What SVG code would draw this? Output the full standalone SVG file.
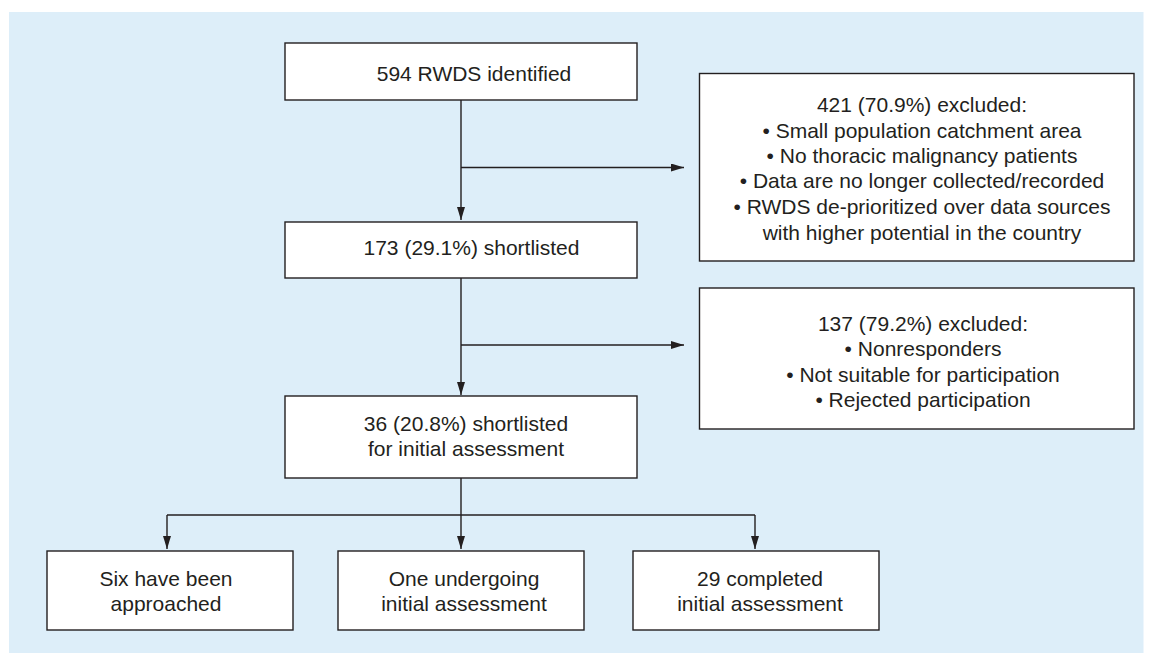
<svg xmlns="http://www.w3.org/2000/svg" width="1155" height="653" viewBox="0 0 1155 653">
<defs>
<style>
.box{fill:#ffffff;stroke:#231f20;stroke-width:1.4}
.t{font-family:"Liberation Sans",Arial,sans-serif;font-size:21px;fill:#231f20;text-anchor:middle}
.c{fill:none;stroke:#231f20;stroke-width:1.4}
.a{marker-end:url(#ah)}
</style>
<marker id="ah" markerUnits="userSpaceOnUse" markerWidth="13" markerHeight="8" refX="13" refY="4" orient="auto">
<path d="M0,0 L13,4 L0,8 Z" fill="#231f20"/>
</marker>
</defs>
<rect x="0" y="0" width="1155" height="653" fill="#ffffff"/>
<rect x="9" y="12" width="1134.5" height="641" fill="#ddeef9"/>
<g id="connectors">
<path class="c a" d="M461,100 V220"/>
<path class="c a" d="M461,167.5 H684"/>
<path class="c a" d="M461,278 V395"/>
<path class="c a" d="M461,345 H684"/>
<path class="c a" d="M461,478 V549"/>
<path class="c" d="M167,515 H755"/>
<path class="c a" d="M167,515 V549"/>
<path class="c a" d="M755,515 V549"/>
</g>
<g id="n1"><rect class="box" x="285" y="43" width="352" height="57"/><text class="t" x="474" y="81">594 RWDS identified</text></g>
<g id="n2"><rect class="box" x="285" y="222" width="352" height="56"/><text class="t" x="471.5" y="255">173 (29.1%) shortlisted</text></g>
<g id="n3"><rect class="box" x="285" y="396" width="352" height="82"/><text class="t" x="466" y="430.7">36 (20.8%) shortlisted</text><text class="t" x="466" y="456">for initial assessment</text></g>
<g id="e1"><rect class="box" x="699.5" y="73.5" width="434.5" height="187.5"/>
<text class="t" x="922" y="111.7">421 (70.9%) excluded:</text>
<text class="t" x="922" y="137.7">• Small population catchment area</text>
<text class="t" x="922" y="162.7">• No thoracic malignancy patients</text>
<text class="t" x="922" y="188.3">• Data are no longer collected/recorded</text>
<text class="t" x="922" y="214">• RWDS de-prioritized over data sources</text>
<text class="t" x="922" y="240">with higher potential in the country</text></g>
<g id="e2"><rect class="box" x="699.5" y="288" width="434.5" height="141"/>
<text class="t" x="923" y="330.7">137 (79.2%) excluded:</text>
<text class="t" x="923" y="356">• Nonresponders</text>
<text class="t" x="923" y="381.7">• Not suitable for participation</text>
<text class="t" x="923" y="406.7">• Rejected participation</text></g>
<g id="b1"><rect class="box" x="47" y="551" width="246" height="79"/><text class="t" x="166" y="585.5">Six have been</text><text class="t" x="166" y="611">approached</text></g>
<g id="b2"><rect class="box" x="338" y="551" width="246" height="79"/><text class="t" x="464" y="585.5">One undergoing</text><text class="t" x="464" y="611">initial assessment</text></g>
<g id="b3"><rect class="box" x="633" y="551" width="246" height="79"/><text class="t" x="760" y="585.5">29 completed</text><text class="t" x="760" y="611">initial assessment</text></g>
</svg>
